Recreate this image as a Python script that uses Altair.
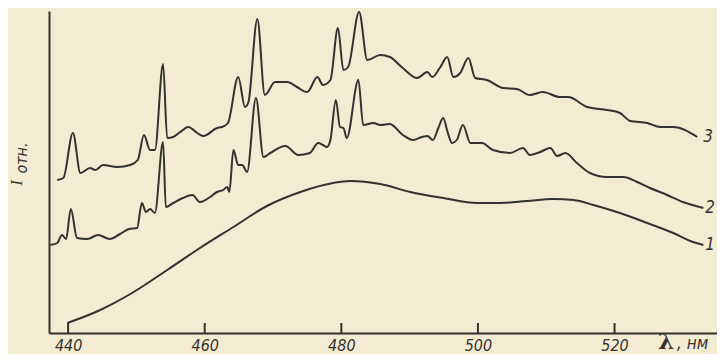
import altair as alt
import pandas as pd

# ---- data (wavelength nm, relative intensity) ----
c1_nm = [439.9, 444.7, 449.6, 454.5, 459.3, 464.2, 469.1, 474.0, 478.8, 481.3, 485.7,
         490.1, 494.9, 499.9, 503.3, 507.2, 511.0, 514.0, 516.9, 520.8, 524.8, 528.6, 531.5, 533.0]
c1_I = [10, 23, 41, 63, 85, 106, 127, 141, 150, 152, 149,
        141, 135, 130, 130, 132, 134, 133, 128, 120, 110, 100, 91, 88]

c2_nm = [437.4, 438.4, 439.1, 439.7, 440.4, 441.3, 442.8, 444.4, 446.1, 447.6,
         448.9, 450.1, 450.8, 451.4, 452.0, 452.7, 453.9, 454.3, 455.4, 456.8,
         458.2, 459.3, 460.8, 461.8, 462.7, 463.3, 463.6, 464.2, 464.9, 465.5,
         466.2, 467.5, 468.6, 469.6, 471.8, 473.7, 475.4, 476.6, 477.3, 477.9,
         478.4, 479.2, 479.8, 480.3, 480.8, 482.5, 483.2, 484.7, 485.7, 487.1,
         489.0, 490.5, 491.8, 492.6, 493.4, 494.2, 494.9, 495.6, 496.2, 496.9,
         497.8, 498.9, 500.6, 502.2, 504.7, 506.6, 507.6, 509.1, 510.6, 511.6,
         512.8, 514.5, 516.4, 518.9, 521.3, 523.3, 525.2, 527.7, 530.0, 533.0]
c2_I = [88, 90, 98, 94, 124, 95, 94, 98, 94, 99,
        104, 105, 130, 121, 124, 120, 191, 126, 130, 135,
        138, 131, 136, 141, 143, 146, 141, 183, 168, 168,
        161, 235, 176, 180, 187, 178, 180, 190, 188, 186,
        193, 233, 206, 205, 195, 253, 208, 210, 208, 209,
        198, 193, 196, 197, 193, 205, 215, 200, 190, 193,
        208, 190, 190, 183, 180, 185, 178, 181, 185, 177,
        180, 170, 160, 156, 156, 151, 145, 138, 131, 125]

c3_nm = [438.4, 439.3, 440.7, 441.8, 443.2, 444.0, 445.1, 447.2, 449.1, 450.2,
         451.1, 452.0, 452.7, 453.9, 454.5, 455.4, 456.4, 457.6, 458.9, 459.8,
         461.8, 462.5, 463.4, 464.9, 465.9, 466.4, 467.7, 468.8, 470.3, 472.1,
         473.5, 475.0, 476.5, 477.3, 478.4, 479.5, 480.3, 481.0, 482.6, 483.8,
         485.7, 487.1, 489.0, 491.1, 492.6, 493.3, 494.5, 495.5, 496.4, 497.4,
         498.6, 499.6, 501.3, 503.7, 505.7, 507.6, 509.5, 512.0, 513.2, 516.0,
         518.9, 520.8, 522.3, 524.8, 526.7, 528.6, 532.1]
c3_I = [153, 155, 200, 160, 165, 163, 168, 166, 168, 173,
        198, 183, 183, 269, 195, 196, 201, 206, 200, 197,
        205, 206, 210, 256, 226, 231, 314, 238, 251, 251,
        246, 241, 256, 248, 253, 305, 263, 266, 321, 273,
        278, 276, 265, 255, 261, 256, 266, 276, 256, 260,
        275, 255, 253, 245, 244, 238, 241, 236, 236, 226,
        223, 220, 212, 210, 206, 206, 196]

curve_names = ["1", "2", "3"]
label_nm = [534.0, 534.0, 533.7]
label_I = [88, 125, 196]
tick_values = [440, 460, 480, 500, 520]

# ---- styling ----
INK = "#34322e"
PAPER = "#f4ebd3"
NUM_FONT = "DejaVu Sans Condensed, Liberation Sans Narrow, sans-serif"

X_DOMAIN = [437.2, 535.0]
Y_DOMAIN = [0, 322]
W, H = 668, 322

rows = []
for name, xs, ys in [("1", c1_nm, c1_I), ("2", c2_nm, c2_I), ("3", c3_nm, c3_I)]:
    for i, (a, b) in enumerate(zip(xs, ys)):
        rows.append({"curve": name, "nm": a, "I": b, "order": i})
df = pd.DataFrame(rows)

xscale = alt.Scale(domain=X_DOMAIN, nice=False, zero=False)
yscale = alt.Scale(domain=Y_DOMAIN, nice=False, zero=False)

x_axis = alt.Axis(values=tick_values, format="d", ticks=False, grid=False, title=None,
                  labelFont=NUM_FONT, labelFontSize=16, labelFontStyle="italic",
                  labelColor=INK, labelPadding=4, domainColor=INK, domainWidth=2)
y_axis = alt.Axis(ticks=False, labels=False, grid=False, title=None,
                  domainColor=INK, domainWidth=2)

lines = alt.Chart(df).mark_line(
    interpolate="monotone", color=INK, strokeWidth=2, strokeJoin="round"
).encode(
    x=alt.X("nm:Q", scale=xscale, axis=x_axis),
    y=alt.Y("I:Q", scale=yscale, axis=y_axis),
    detail="curve:N",
    order="order:Q",
)

labels_df = pd.DataFrame({"curve": curve_names, "nm": label_nm, "I": label_I})
curve_labels = alt.Chart(labels_df).mark_text(
    font=NUM_FONT, fontSize=17, fontStyle="italic", color=INK,
    align="center", baseline="middle"
).encode(x=alt.X("nm:Q", scale=xscale), y=alt.Y("I:Q", scale=yscale), text="curve:N")

ticks_df = pd.DataFrame({"nm": tick_values})
ticks = alt.Chart(ticks_df).mark_rule(color=INK, strokeWidth=2).encode(
    x=alt.X("nm:Q", scale=xscale), y=alt.value(H), y2=alt.value(H - 10)
)

ytitle_I = alt.Chart(pd.DataFrame({"t": ["I"]})).mark_text(
    font="Liberation Serif, serif", fontSize=17, fontStyle="italic", color=INK,
    angle=270, align="center", baseline="middle"
).encode(x=alt.value(-32), y=alt.value(172), text="t:N")

ytitle_sub = alt.Chart(pd.DataFrame({"t": ["отн."]})).mark_text(
    font=NUM_FONT, fontSize=16, fontStyle="italic", color=INK,
    angle=270, align="center", baseline="middle"
).encode(x=alt.value(-27), y=alt.value(147), text="t:N")

lam = alt.Chart(pd.DataFrame({"t": ["λ"]})).mark_text(
    font="DejaVu Serif, serif", fontSize=23, fontWeight="bold", color=INK,
    align="center", baseline="alphabetic"
).encode(x=alt.value(617), y=alt.value(338), text="t:N")

unit = alt.Chart(pd.DataFrame({"t": [", нм"]})).mark_text(
    font=NUM_FONT, fontSize=17, fontStyle="italic", color=INK,
    align="left", baseline="alphabetic"
).encode(x=alt.value(628), y=alt.value(338), text="t:N")

chart = alt.layer(lines, ticks, curve_labels, ytitle_I, ytitle_sub, lam, unit).properties(
    width=W, height=H,
    padding={"left": 41, "top": 3, "right": 0, "bottom": 21},
    autosize=alt.AutoSizeParams(type="none"),
    background=PAPER,
).configure_view(stroke=None)

chart.save("out.html", embed_options={"renderer": "svg", "actions": False})
